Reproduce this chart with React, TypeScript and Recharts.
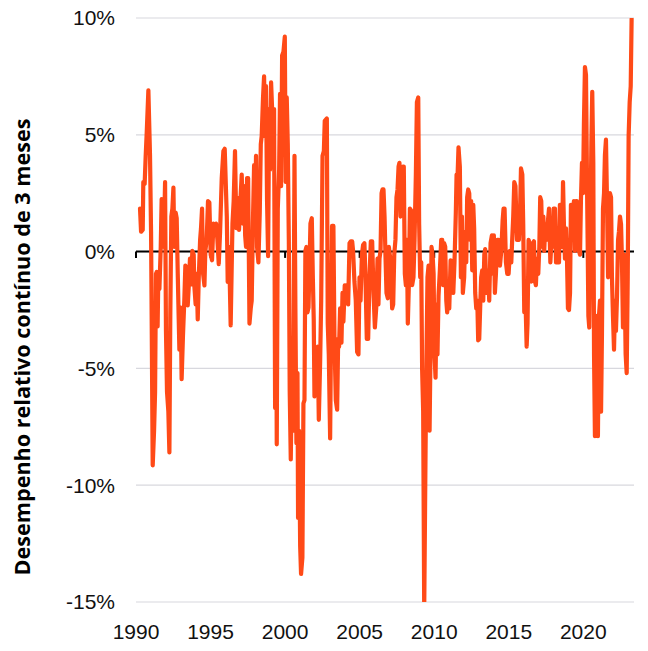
import { CartesianGrid, Line, LineChart, ReferenceLine, XAxis, YAxis } from 'recharts';

// [decimal year, rolling 3-month relative performance in %]
const span1990s: [number, number][] = [
  [1990.27, 1.84], [1990.34, 0.85], [1990.45, 0.93], [1990.49, 2.98], [1990.58, 2.9], [1990.65, 4.1],
  [1990.72, 5.1], [1990.83, 6.9], [1990.94, 4.1], [1991.01, 0.85], [1991.05, -2.75], [1991.12, -9.15],
  [1991.21, -7.7], [1991.28, -6.0], [1991.34, -0.95], [1991.39, -0.87], [1991.45, -3.2], [1991.5, -0.95],
  [1991.57, -1.6], [1991.66, 0.2], [1991.72, 2.25], [1991.79, 2.16], [1991.86, 0.2], [1991.95, 2.98],
  [1992.01, -3.4], [1992.08, -6.0], [1992.17, -6.85], [1992.24, -8.6], [1992.3, -2.75], [1992.37, 1.5],
  [1992.44, 1.84], [1992.51, 2.74], [1992.57, 0.2], [1992.66, 1.67], [1992.73, 1.43], [1992.8, -0.95],
  [1992.86, -2.75], [1992.91, -4.2], [1993.0, -2.4], [1993.06, -5.46], [1993.15, -3.6], [1993.24, -2.1],
  [1993.31, -0.6], [1993.4, -0.7], [1993.47, -2.3], [1993.53, -1.6], [1993.62, -0.3], [1993.69, -1.4],
  [1993.78, 0.03], [1993.87, -0.13], [1993.91, -1.45], [1994.0, -2.26], [1994.07, -0.95], [1994.14, -2.9],
  [1994.21, -1.1], [1994.3, 0.5], [1994.36, 1.0], [1994.43, 1.84], [1994.5, -0.95], [1994.59, -1.45],
  [1994.65, 0.03], [1994.74, 0.5], [1994.83, 2.16], [1994.92, 2.1], [1995.01, -0.13], [1995.1, -0.37],
  [1995.19, 1.2], [1995.28, 1.0], [1995.37, 1.2], [1995.46, 0.5], [1995.55, -0.54], [1995.64, 0.85],
  [1995.75, 3.15], [1995.86, 4.3], [1995.95, 4.4], [1996.09, 1.5], [1996.15, -1.3], [1996.24, 0.2],
  [1996.35, -3.16], [1996.47, 1.2], [1996.55, 2.16], [1996.64, 4.3], [1996.73, 1.0], [1996.82, 2.3],
  [1996.91, 0.93], [1997.0, 2.16], [1997.09, 3.3], [1997.18, 1.2], [1997.25, 2.8], [1997.32, 0.7],
  [1997.38, 0.2], [1997.45, 3.15], [1997.52, 3.15], [1997.61, -3.08], [1997.7, -2.4], [1997.76, -2.1],
  [1997.85, 1.5], [1997.92, 3.7], [1997.99, 1.84], [1998.05, 4.1], [1998.12, 0.2], [1998.21, -0.46],
  [1998.3, 1.67], [1998.37, 4.6], [1998.43, 4.95], [1998.52, 6.6], [1998.59, 7.5], [1998.66, 4.95],
  [1998.72, 7.08], [1998.79, 2.16], [1998.86, -0.2], [1998.93, 6.1], [1998.99, 3.5], [1999.06, 7.25],
  [1999.13, 6.1], [1999.19, 3.64], [1999.26, 6.1], [1999.33, -6.7], [1999.4, -0.13], [1999.44, -8.25],
  [1999.51, 1.84], [1999.6, 3.5], [1999.66, 6.75], [1999.73, 2.8], [1999.8, 8.4], [1999.89, 8.56],
  [1999.98, 9.2],
];

const span2000s: [number, number][] = [
  [2000.04, 2.98], [2000.11, 6.6], [2000.18, 4.6], [2000.25, 0.5], [2000.31, -6.0], [2000.38, -8.9],
  [2000.47, -4.4], [2000.54, -7.67], [2000.63, 4.1], [2000.69, -2.4], [2000.76, -8.2], [2000.83, -5.2],
  [2000.87, -11.4], [2000.94, -7.67], [2001.01, -12.6], [2001.07, -13.8], [2001.16, -13.1], [2001.23, -6.5],
  [2001.3, -6.36], [2001.36, 0.03], [2001.43, 0.2], [2001.5, -2.6], [2001.57, -2.4], [2001.63, -0.8],
  [2001.7, 1.2], [2001.79, 1.43], [2001.86, -1.1], [2001.92, -2.9], [2001.97, -6.2], [2002.06, -6.0],
  [2002.13, -4.2], [2002.19, -4.07], [2002.26, -7.2], [2002.35, -4.7], [2002.42, -2.1], [2002.51, 4.1],
  [2002.6, 4.3], [2002.66, 5.6], [2002.8, 5.7], [2002.86, -3.08], [2002.93, -4.4], [2003.02, -8.0],
  [2003.09, -2.75], [2003.15, 1.1], [2003.24, 1.1], [2003.31, -3.74], [2003.4, -6.36], [2003.49, -6.77],
  [2003.56, -3.74], [2003.62, -4.07], [2003.69, -2.43], [2003.78, -3.9], [2003.85, -1.77], [2003.91, -3.0],
  [2004.0, -1.44], [2004.07, -1.6], [2004.14, -1.44], [2004.23, -2.26], [2004.32, 0.36], [2004.41, 0.44],
  [2004.5, 0.44], [2004.56, 0.03], [2004.65, -1.28], [2004.74, -2.1], [2004.83, -4.3], [2004.92, -4.4],
  [2004.99, -1.1], [2005.06, -2.1], [2005.15, -0.13], [2005.23, 0.28], [2005.32, 0.36], [2005.39, -1.1],
  [2005.48, -3.74], [2005.57, -3.74], [2005.66, -1.1], [2005.75, 0.44], [2005.84, 0.44], [2005.93, -1.77],
  [2006.02, -3.25], [2006.11, -2.43], [2006.2, -0.3], [2006.26, -2.26], [2006.33, -0.3], [2006.4, 0.03],
  [2006.47, 2.5], [2006.53, 2.66], [2006.6, 2.66], [2006.67, 1.5], [2006.73, -0.13], [2006.8, -1.77],
  [2006.89, -2.0], [2006.96, 0.2], [2007.05, -0.3], [2007.11, -1.1], [2007.18, -2.43], [2007.25, -2.26],
  [2007.32, -0.13], [2007.4, 0.5], [2007.47, 2.33], [2007.54, 2.66], [2007.61, 3.64], [2007.67, 3.8],
  [2007.74, 1.5], [2007.81, 1.84], [2007.9, 3.64], [2007.96, 3.64], [2008.03, -0.95], [2008.1, -1.44],
  [2008.17, 0.5], [2008.23, -3.08], [2008.3, -1.44], [2008.37, 1.84], [2008.46, 1.75], [2008.52, -1.44],
  [2008.61, -1.1], [2008.68, 0.5], [2008.77, 3.3], [2008.84, 6.4], [2008.93, 6.6], [2008.99, 1.18],
  [2009.06, -1.1], [2009.13, -0.46], [2009.19, -5.05], [2009.26, -6.85], [2009.33, -15.3], [2009.42, -8.5],
  [2009.49, -4.07], [2009.55, -1.1], [2009.62, -0.6], [2009.69, -7.67], [2009.75, -4.4], [2009.82, 0.2],
  [2009.89, -0.13], [2009.96, -0.95],
];

const span2010s: [number, number][] = [
  [2010.02, -4.4], [2010.09, -5.4], [2010.16, -2.26], [2010.22, -4.4], [2010.29, -1.9], [2010.38, -0.8],
  [2010.47, 0.5], [2010.54, 0.5], [2010.6, -1.44], [2010.67, 0.36], [2010.74, 0.2], [2010.81, -2.1],
  [2010.87, -2.6], [2010.94, -1.9], [2011.01, -2.43], [2011.1, -0.37], [2011.19, -1.1], [2011.28, -1.77],
  [2011.36, -0.46], [2011.45, 1.67], [2011.5, 3.3], [2011.57, 3.3], [2011.63, 4.46], [2011.72, 3.64],
  [2011.79, -1.1], [2011.86, 1.5], [2011.92, -1.77], [2012.01, -1.1], [2012.08, 0.85], [2012.15, -0.46],
  [2012.21, 2.33], [2012.28, 2.66], [2012.35, 2.5], [2012.42, 0.5], [2012.48, 2.16], [2012.55, -0.8],
  [2012.62, 2.0], [2012.68, 1.0], [2012.75, -1.77], [2012.82, -2.43], [2012.89, -2.1], [2012.95, -3.8],
  [2013.02, -3.74], [2013.09, -2.26], [2013.15, -1.1], [2013.22, -0.8], [2013.29, -2.1], [2013.36, -0.13],
  [2013.42, 0.11], [2013.49, -1.77], [2013.56, -0.8], [2013.62, -0.95], [2013.69, -2.1], [2013.78, 0.36],
  [2013.87, 0.7], [2013.94, -0.95], [2014.0, 0.7], [2014.07, -1.77], [2014.14, -0.95], [2014.23, 0.5],
  [2014.32, 0.5], [2014.41, -0.6], [2014.5, 0.03], [2014.59, 1.34], [2014.65, 1.84], [2014.72, 1.84],
  [2014.81, -0.46], [2014.9, -0.95], [2014.99, -0.95], [2015.08, 0.03], [2015.17, -0.46], [2015.23, 0.5],
  [2015.3, 1.5], [2015.37, 2.98], [2015.45, 2.8], [2015.55, 0.5], [2015.62, 0.7], [2015.68, 0.5],
  [2015.75, 1.5], [2015.82, 3.56], [2015.91, 3.3], [2015.97, 1.18], [2016.04, -2.6], [2016.11, -1.77],
  [2016.2, -4.07], [2016.26, -3.08], [2016.33, 0.5], [2016.4, 0.36], [2016.47, -1.1], [2016.53, -1.28],
  [2016.62, 0.36], [2016.69, 0.44], [2016.76, -1.28], [2016.82, -1.44], [2016.89, -0.3], [2016.98, -0.95],
  [2017.05, 0.2], [2017.11, 2.33], [2017.18, 2.16], [2017.25, 0.2], [2017.32, 1.5], [2017.38, 0.03],
  [2017.45, 1.18], [2017.52, 0.5], [2017.61, 1.18], [2017.7, 1.84], [2017.79, -0.46], [2017.87, 0.5],
  [2017.94, 0.2], [2018.01, 1.84], [2018.1, 1.84], [2018.17, -0.46], [2018.23, -0.46], [2018.3, 1.0],
  [2018.37, -0.46], [2018.43, 2.0], [2018.5, 2.0], [2018.57, 0.2], [2018.64, 2.98], [2018.7, 1.18],
  [2018.77, -0.3], [2018.84, 1.0], [2018.9, -0.13], [2018.97, -2.43], [2019.04, -2.5], [2019.11, -1.77],
  [2019.17, 2.0], [2019.24, 2.0], [2019.31, 0.5], [2019.37, 2.16], [2019.44, 0.03], [2019.51, 2.16],
  [2019.57, 2.16], [2019.64, 1.18], [2019.71, 0.03], [2019.78, -0.13], [2019.84, 2.16], [2019.91, 3.8],
  [2019.98, 2.5],
];

const span2020s: [number, number][] = [
  [2020.04, 5.44], [2020.11, 7.9], [2020.18, 7.57], [2020.25, 2.82], [2020.29, 0.5], [2020.34, -2.75],
  [2020.4, -3.25], [2020.47, 0.5], [2020.54, 4.62], [2020.6, 6.84], [2020.67, 3.8], [2020.72, -4.4],
  [2020.78, -7.9], [2020.85, -6.0], [2020.92, -2.75], [2020.98, -7.9], [2021.05, -2.75], [2021.12, -2.1],
  [2021.19, -6.85], [2021.25, -3.57], [2021.32, 1.84], [2021.39, 2.5], [2021.45, 4.13], [2021.52, 4.79],
  [2021.59, 2.16], [2021.66, -1.1], [2021.72, 0.03], [2021.79, 2.5], [2021.86, 2.33], [2021.92, -1.1],
  [2021.99, -2.75], [2022.06, -4.2], [2022.13, -2.1], [2022.19, -3.4], [2022.26, -1.93], [2022.33, 0.5],
  [2022.39, 0.85], [2022.46, 1.5], [2022.53, 1.18], [2022.59, -0.3], [2022.66, -3.25], [2022.73, -0.13],
  [2022.77, -1.1], [2022.84, -4.4], [2022.91, -5.2], [2022.98, -1.1], [2023.04, 4.95], [2023.11, 6.4],
  [2023.18, 7.08], [2023.24, 9.95],
];

const series = [...span1990s, ...span2000s, ...span2010s, ...span2020s].map(([year, value]) => ({ year, value }));

const X_TICKS = [1990, 1995, 2000, 2005, 2010, 2015, 2020];
const Y_TICKS = [-15, -10, -5, 0, 5, 10];
const Y_LABEL = 'Desempenho relativo contínuo de 3 meses';

const LINE_COLOR = '#ff4a17';
const GRID_COLOR = '#d8d8de';
const TICK_FONT = { fontFamily: 'Liberation Sans, Arial, sans-serif', fontSize: 21, fill: '#111111' };

export default function App() {
  return (
    <div style={{ position: 'absolute', left: 0, top: 0, width: 648, height: 651, background: '#ffffff' }}>
      <LineChart width={648} height={651} data={series} margin={{ top: 18, right: 14, bottom: 0, left: 0 }}>
        <CartesianGrid vertical={false} stroke={GRID_COLOR} strokeWidth={1.2} />
        <XAxis
          type="number"
          dataKey="year"
          domain={[1990, 2023.4]}
          ticks={X_TICKS}
          allowDataOverflow
          axisLine={false}
          tickLine={false}
          tickSize={0}
          tickMargin={22}
          height={49}
          tick={TICK_FONT}
        />
        <YAxis
          type="number"
          domain={[-15, 10]}
          ticks={Y_TICKS}
          allowDataOverflow
          axisLine={false}
          tickLine={false}
          tickSize={0}
          tickMargin={21}
          width={136}
          tick={TICK_FONT}
          tickFormatter={(v: number) => `${v}%`}
        />
        <ReferenceLine y={0} stroke="#000000" strokeWidth={2} />
        {X_TICKS.map((t) => (
          <ReferenceLine
            key={t}
            segment={[{ x: t, y: 0 }, { x: t, y: -0.27 }]}
            stroke="#000000"
            strokeWidth={2}
          />
        ))}
        <Line
          type="linear"
          dataKey="value"
          stroke={LINE_COLOR}
          strokeWidth={4.2}
          strokeLinejoin="round"
          strokeLinecap="round"
          dot={false}
          activeDot={false}
          isAnimationActive={false}
        />
      </LineChart>
      <svg width={648} height={651} style={{ position: 'absolute', left: 0, top: 0, pointerEvents: 'none' }}>
        <text
          x={0}
          y={0}
          transform="translate(21 347) rotate(-90)"
          textAnchor="middle"
          dominantBaseline="central"
          fontFamily="Open Sans, sans-serif"
          fontWeight={700}
          fontSize={21.5}
          textLength={457}
          lengthAdjust="spacingAndGlyphs"
          fill="#000000"
        >
          {Y_LABEL}
        </text>
      </svg>
    </div>
  );
}
